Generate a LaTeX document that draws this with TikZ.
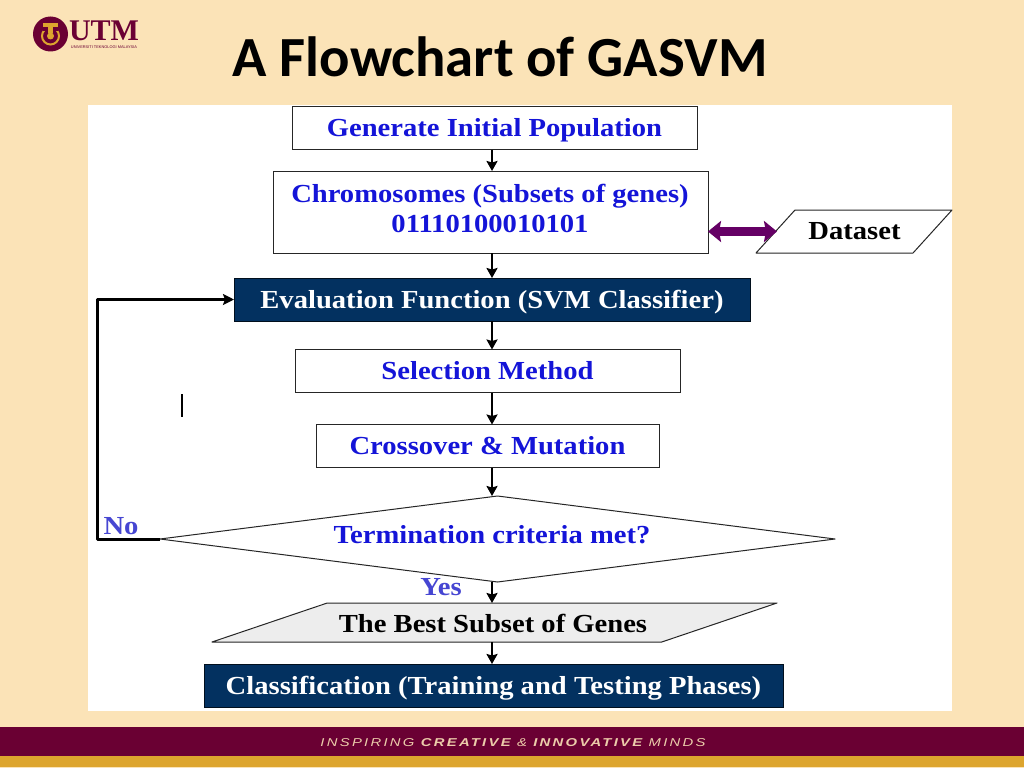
\documentclass[tikz,border=0pt]{standalone}
\usepackage{fontspec}
\setmainfont[FakeStretch=1.1]{Liberation Serif}
\newfontfamily\logofont{Liberation Serif}
\newfontfamily\titlefont{Carlito}
\newfontfamily\bandfont[FakeStretch=1.3]{Liberation Sans}
\newfontfamily\subfont{Liberation Sans}
\usetikzlibrary{shapes.geometric,arrows.meta,calc}
\definecolor{bgcream}{HTML}{FBE3B7}
\definecolor{maroon}{HTML}{6A0033}
\definecolor{goldband}{HTML}{DDA52E}
\definecolor{navybox}{HTML}{033160}
\definecolor{flowblue}{HTML}{1414D8}
\definecolor{softblue}{HTML}{4646D2}
\definecolor{purplearrow}{HTML}{650065}
\definecolor{greybox}{HTML}{EDEDED}
\tikzset{
  x=1pt,y=-1pt,
  every node/.style={inner sep=0pt,outer sep=0pt,font=\bfseries\fontsize{26}{28}\selectfont},
  level/.style={text height=17pt,text depth=0pt},
  whitebox/.style={draw=black!85,line width=1pt,fill=white,text=flowblue,align=center,minimum width=#1,level},
  navy/.style={draw=black!70!navybox,line width=.6pt,fill=navybox,text=white,minimum width=#1,level},
  slanted/.style={trapezium,trapezium stretches body,draw=black!85,line width=1pt,line join=round},
  link/.style={draw=black,line width=2.6pt,-{Stealth[length=10pt,width=11pt,inset=1.5pt]}},
}
\begin{document}
\begin{tikzpicture}
\useasboundingbox (0,0) rectangle (1024,768);
\fill[bgcream] (0,0) rectangle (1024,768);
\fill[white] (88,105) rectangle (952,711);
% footer band
\fill[maroon] (0,727) rectangle (1024,756);
\fill[goldband] (0,756) rectangle (1024,767);
\node[text=bgcream!90!maroon,font=\bandfont\itshape\fontsize{11.4}{13}\selectfont] (motto) at (513,742.5)
  {\addfontfeature{LetterSpace=20}INSPIRING {\bfseries CREATIVE} \& {\bfseries INNOVATIVE} MINDS};
% logo
\fill[maroon] (50.5,34) circle (17.5);
\draw[goldband,line width=2pt] (50.5,36) circle (8.5);
\fill[maroon] (43,23) rectangle (58,31);
\fill[goldband] (43,23) rectangle (58,27);
\fill[goldband] (48,27) rectangle (53,33);
\fill[goldband] (50.5,36) circle (3.5);
\node[text=maroon,font=\logofont\bfseries\fontsize{30}{30}\selectfont] (utm) at (104,31) {UTM};
\node[text=maroon,font=\subfont\fontsize{3.9}{5}\selectfont] (utmsub) at (104,47) {UNIVERSITI TEKNOLOGI MALAYSIA};
% title
\node[font=\titlefont\bfseries\fontsize{56.7}{60}\selectfont] (title) at (500,57) {A Flowchart of GASVM};
% cursor mark
\draw[black,line width=1.4pt] (182,394) -- (182,417);
% flow nodes
\coordinate (spine) at (492,0);
\node[whitebox=405pt,minimum height=43pt] (gen) at (494.5,128) {Generate Initial Population};
\node[whitebox=435pt,minimum height=82pt] (chr) at (490.5,212) {};
\node[text=flowblue,align=center] (chrtext) at (490,208.5) {Chromosomes (Subsets of genes)\\[2pt]01110100010101};
\node[slanted,text height=43pt,text depth=0pt,trapezium left angle=47.8,trapezium right angle=132.2,minimum width=196pt,fill=white] (data) at (854,231.5) {};
\node[level] (datatext) at (854.5,231) {Dataset};
\node[navy=516pt,minimum height=43pt] (eval) at (492,299.5) {Evaluation Function (SVM Classifier)};
\node[whitebox=385pt,minimum height=43pt] (sel) at (487.5,371) {Selection Method};
\node[whitebox=343pt,minimum height=43pt] (cross) at (487.5,446) {Crossover \& Mutation};
\node[diamond,draw=black!85,line width=1pt,line join=round,fill=white,aspect=7.9,minimum width=675pt,minimum height=86pt] (term) at (497.5,539) {};
\node[text=flowblue,level] (termtext) at (492,535) {Termination criteria met?};
\node[slanted,text height=39pt,text depth=0pt,trapezium left angle=18.7,trapezium right angle=161.3,minimum width=565pt,fill=greybox] (best) at (494.5,622.5) {};
\node[level] (besttext) at (493,624) {The Best Subset of Genes};
\node[navy=579pt,minimum height=43pt] (cls) at (493.5,685.5) {Classification (Training and Testing Phases)};
\node[text=softblue,level] (no) at (121,526) {No};
\node[text=softblue,level] (yes) at (441,587) {Yes};
% connectors
\draw[link] (gen.south -| spine) -- (chr.north -| spine);
\draw[link] (chr.south -| spine) -- (eval.north -| spine);
\draw[link] (eval.south -| spine) -- (sel.north -| spine);
\draw[link] (sel.south -| spine) -- (cross.north -| spine);
\draw[link] (cross.south -| spine) -- (term.north -| spine);
\draw[link] (term.south -| spine) -- (best.north -| spine);
\draw[link] (best.south -| spine) -- (cls.north -| spine);
\coordinate (loopx) at (97,0);
\draw[draw=black,line width=3pt,line join=round,-{Stealth[length=11pt,width=11pt,inset=2pt]}]
  (term.west) -- (term.west -| loopx) -- (eval.west -| loopx) -- (eval.west);
\draw[draw=purplearrow,line width=9pt,{Stealth[length=13pt,width=21pt,inset=2pt,fill=purplearrow,color=purplearrow]}-{Stealth[length=13pt,width=21pt,inset=2pt,fill=purplearrow,color=purplearrow]}]
  (chr.east |- data.west) -- ([xshift=1.5pt]data.west);
\end{tikzpicture}
\end{document}
